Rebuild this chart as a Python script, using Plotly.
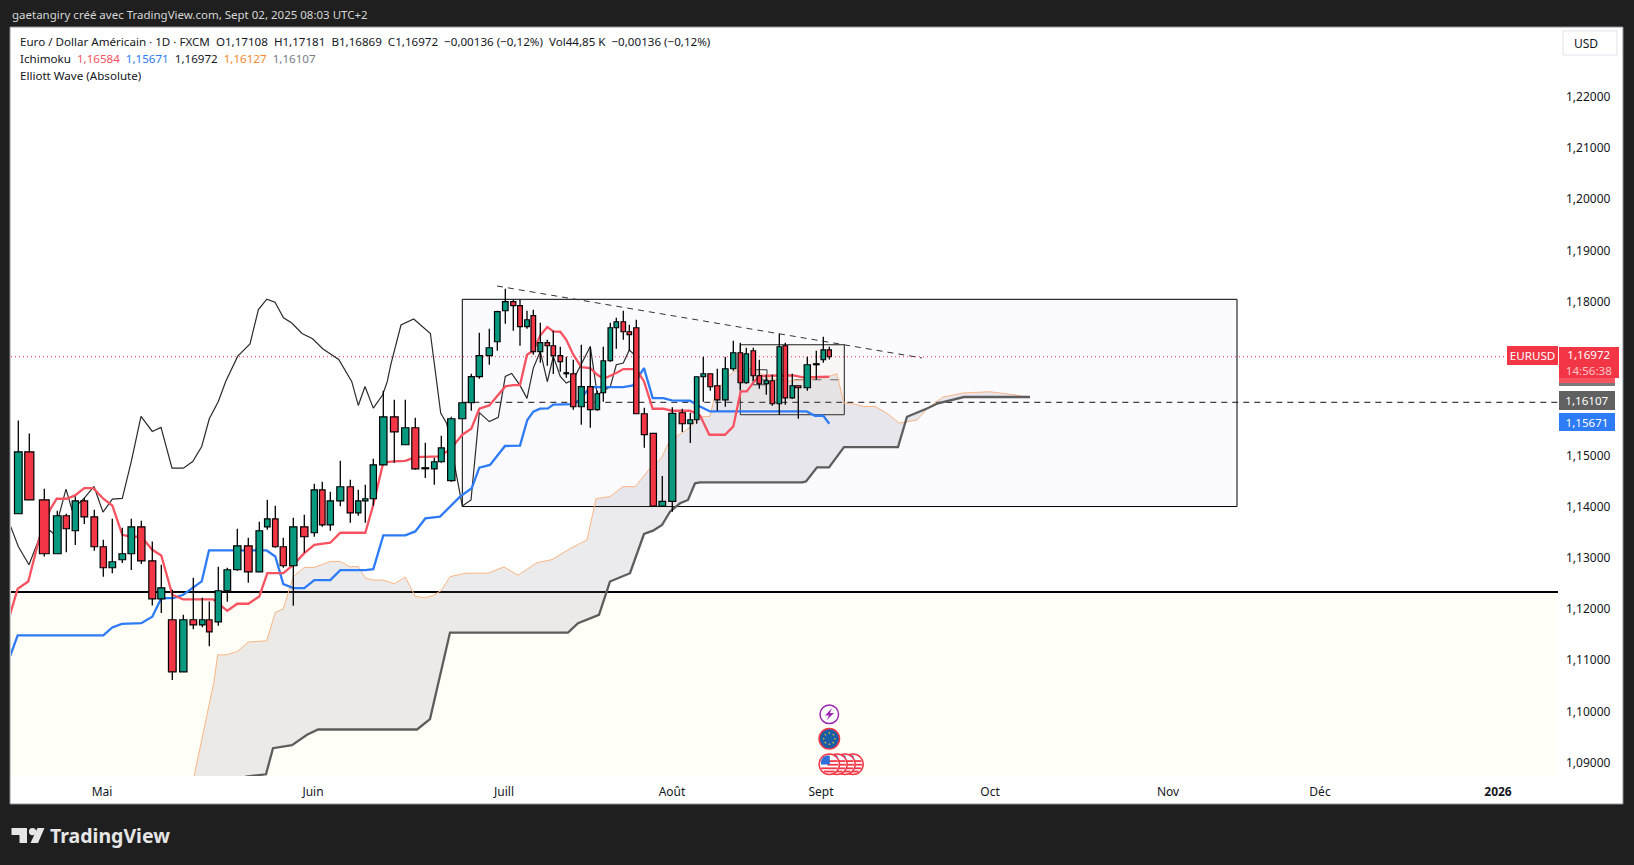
import math

import numpy as np
import plotly.graph_objects as go

# EUR/USD daily (time scale units run left to right across the chart)
bar_x = [18.3, 29.3, 44.3, 57.3, 66.3, 75.3, 84.3, 94.3, 103.3, 112.3, 122.3, 131.3, 141.3, 152.3, 161.3, 172.3,
         183.3, 193.3, 202.3, 209.3, 218.3, 227.3, 237.3, 248.3, 259.3, 267.3, 275.3, 283.3, 293.3, 304.3, 314.3,
         322.3, 330.3, 340.3, 350.3, 358.3, 365.3, 373.3, 383.3, 394.3, 405.3, 415.3, 425.3, 434.3, 441.3, 451.3,
         462.3, 471.3, 479.3, 489.3, 497.3, 505.3, 513.3, 520, 527, 533.3, 540.3, 547.3, 553.3, 560.3, 566.3,
         573.3, 581.3, 590.3, 597.3, 603.3, 610.3, 616.3, 623.3, 629.3, 636.3, 644.3, 653.3, 662.3, 672.3, 682.3,
         690.3, 696.7, 703.3, 710.3, 717.3, 725.3, 733.3, 740.3, 746.3, 753.3, 759.3, 766.3, 772.3, 779.3, 785.3,
         792.3, 798.3, 807.3, 816.3, 823.3, 829.3]
bar_open = [1.13859, 1.15069, 1.14132, 1.13078, 1.13820, 1.13527, 1.14112, 1.13800, 1.13215, 1.12805, 1.12961,
            1.13078, 1.13605, 1.12941, 1.12199, 1.11790, 1.10774, 1.11790, 1.11692, 1.11790, 1.11750, 1.12356,
            1.12766, 1.13234, 1.12726, 1.13605, 1.13761, 1.13215, 1.12844, 1.13605, 1.13488, 1.14327, 1.13644,
            1.14112, 1.14386, 1.13878, 1.14112, 1.14152, 1.14815, 1.15752, 1.15206, 1.15538, 1.14737, 1.14737,
            1.14874, 1.14504, 1.15714, 1.16026, 1.16534, 1.16944, 1.17217, 1.17822, 1.17998, 1.17920, 1.17510,
            1.17725, 1.17022, 1.17198, 1.17139, 1.16944, 1.16592, 1.16592, 1.15948, 1.16339, 1.15890, 1.16221,
            1.16846, 1.17490, 1.17607, 1.17412, 1.17490, 1.15811, 1.15429, 1.14011, 1.14102, 1.15831, 1.15616,
            1.15694, 1.16533, 1.16592, 1.16358, 1.16084, 1.16690, 1.17002, 1.16416, 1.17041, 1.16553, 1.16397,
            1.16455, 1.16006, 1.17139, 1.16123, 1.16358, 1.16319, 1.16768, 1.16865, 1.17060]
bar_high = [1.15681, 1.15427, 1.14347, 1.13917, 1.13859, 1.14197, 1.14171, 1.13937, 1.13351, 1.13761, 1.13585,
            1.13761, 1.13722, 1.13319, 1.12863, 1.12375, 1.11887, 1.12609, 1.12219, 1.12147, 1.12824, 1.12805,
            1.13566, 1.13390, 1.13703, 1.14132, 1.14015, 1.13390, 1.13781, 1.13839, 1.14444, 1.14483, 1.14288,
            1.14893, 1.14522, 1.14327, 1.14425, 1.14932, 1.16260, 1.16084, 1.16084, 1.15733, 1.15245, 1.14952,
            1.15381, 1.15753, 1.16026, 1.16592, 1.17393, 1.17471, 1.17822, 1.18252, 1.18037, 1.18037, 1.17822,
            1.17842, 1.17588, 1.17256, 1.17432, 1.17119, 1.16924, 1.16866, 1.17158, 1.17119, 1.16260, 1.17119,
            1.17588, 1.17686, 1.17822, 1.17549, 1.17646, 1.15929, 1.15429, 1.14596, 1.15937, 1.15909, 1.15831,
            1.16533, 1.16924, 1.16592, 1.16690, 1.16924, 1.17236, 1.17197, 1.17100, 1.17100, 1.16865, 1.16572,
            1.16572, 1.17373, 1.17197, 1.16592, 1.16358, 1.16924, 1.17041, 1.17314, 1.17119]
bar_low = [1.13859, 1.14132, 1.13026, 1.13078, 1.13110, 1.13247, 1.13657, 1.13136, 1.12629, 1.12700, 1.12896,
           1.12759, 1.12876, 1.12069, 1.11920, 1.10612, 1.10774, 1.11607, 1.11646, 1.11275, 1.11672, 1.12141,
           1.12746, 1.12512, 1.12726, 1.13546, 1.13195, 1.12805, 1.12063, 1.13097, 1.13410, 1.13605, 1.13527,
           1.14008, 1.13683, 1.13820, 1.13683, 1.14015, 1.14815, 1.14854, 1.15206, 1.14718, 1.14555, 1.14425,
           1.14854, 1.14484, 1.15714, 1.15870, 1.16495, 1.16768, 1.17041, 1.17568, 1.17432, 1.17139, 1.17471,
           1.16963, 1.16807, 1.16749, 1.16586, 1.16631, 1.16514, 1.15890, 1.15597, 1.15538, 1.15870, 1.16046,
           1.16827, 1.17080, 1.17256, 1.17041, 1.15811, 1.15148, 1.14011, 1.14011, 1.13900, 1.15453, 1.15239,
           1.15616, 1.16045, 1.16260, 1.15870, 1.15948, 1.16651, 1.16280, 1.16397, 1.16455, 1.16299, 1.16182,
           1.15967, 1.15792, 1.15987, 1.16104, 1.15714, 1.16260, 1.16475, 1.16807, 1.16869]
bar_close = [1.15069, 1.14132, 1.13078, 1.13820, 1.13566, 1.14112, 1.13800, 1.13215, 1.12805, 1.12922, 1.13078,
             1.13605, 1.12941, 1.12199, 1.12414, 1.10774, 1.11790, 1.11692, 1.11790, 1.11555, 1.12356, 1.12766,
             1.13234, 1.12726, 1.13527, 1.13761, 1.13215, 1.12844, 1.13605, 1.13410, 1.14327, 1.13644, 1.14112,
             1.14386, 1.13878, 1.14112, 1.14152, 1.14815, 1.15752, 1.15459, 1.15538, 1.14737, 1.14757, 1.14874,
             1.15147, 1.15714, 1.16026, 1.16534, 1.16944, 1.17100, 1.17803, 1.17998, 1.17920, 1.17510, 1.17646,
             1.17022, 1.17198, 1.17139, 1.16944, 1.16827, 1.16612, 1.15948, 1.16339, 1.15890, 1.16202, 1.16846,
             1.17490, 1.17607, 1.17412, 1.17354, 1.15811, 1.15402, 1.14011, 1.14102, 1.15820, 1.15616, 1.15694,
             1.16533, 1.16592, 1.16338, 1.16084, 1.16690, 1.17002, 1.16416, 1.16982, 1.16553, 1.16397, 1.16455,
             1.16006, 1.17119, 1.16123, 1.16358, 1.16319, 1.16768, 1.16787, 1.17060, 1.16924]

# ichimoku lines
tenkan_x = [10, 17.7, 28.3, 39.3, 50, 56.7, 66.7, 75, 84.3, 93.3, 103.3, 112.3, 122.3, 131.3, 141.3, 152.3, 161.3,
            172.3, 183.3, 213.3, 227.3, 237.3, 248.3, 259.3, 267.3, 283.3, 293.3, 304.3, 314.3, 330.3, 340.3, 365.3,
            373.3, 383.3, 394.3, 405.3, 415.3, 440, 451.3, 462.3, 471.3, 479.3, 489.3, 497.3, 505.3, 513.3, 520, 527,
            533.3, 540.3, 547.3, 553.3, 560.3, 566.3, 573.3, 581.3, 590.3, 597.3, 603.3, 610.3, 616.3, 623.3, 636.3,
            644, 652.7, 663.3, 671.7, 690, 700, 709.3, 725, 733.3, 740.7, 746.7, 758.3, 766.7, 786.7, 793.3, 803.3,
            829.3]
tenkan = [1.11887, 1.12395, 1.12538, 1.13384, 1.13937, 1.14152, 1.14152, 1.14217, 1.14360, 1.14360, 1.14152, 1.14021,
          1.13449, 1.13410, 1.13410, 1.13156, 1.13045, 1.12278, 1.12186, 1.12186, 1.11965, 1.12102, 1.12102, 1.12245,
          1.12700, 1.12700, 1.12863, 1.13091, 1.13254, 1.13293, 1.13488, 1.13488, 1.14034, 1.14861, 1.14880, 1.14893,
          1.14965, 1.14979, 1.15141, 1.15402, 1.15519, 1.15909, 1.15974, 1.16150, 1.16345, 1.16371, 1.16371, 1.16963,
          1.17041, 1.17341, 1.17503, 1.17419, 1.17412, 1.17256, 1.16963, 1.16722, 1.16703, 1.16573, 1.16495, 1.16553,
          1.16605, 1.16683, 1.16683, 1.16442, 1.15909, 1.15909, 1.15870, 1.15870, 1.15779, 1.15401, 1.15401, 1.15564,
          1.16247, 1.16247, 1.16540, 1.16553, 1.16559, 1.16559, 1.16520, 1.16533]
kijun_x = [10, 17.7, 103.3, 112.3, 121.7, 141.3, 152.3, 161.3, 173.3, 183.3, 201.7, 209, 266.7, 275.3, 283.3, 293.3,
           304.3, 314.3, 330.3, 340.3, 365.3, 373.3, 383.3, 405.3, 415.3, 425.3, 440, 460, 471.7, 479.3, 490, 505,
           520, 527.3, 533.3, 540, 548, 553.3, 573, 580, 590, 623, 633, 640, 644, 652.7, 663.3, 671.7, 690, 700,
           710, 806.7, 815, 823.3, 829.3]
kijun = [1.11074, 1.11484, 1.11484, 1.11640, 1.11711, 1.11724, 1.11848, 1.12212, 1.12212, 1.12278, 1.12538, 1.13143,
         1.13143, 1.13026, 1.12486, 1.12408, 1.12408, 1.12564, 1.12564, 1.12759, 1.12759, 1.12779, 1.13436, 1.13436,
         1.13514, 1.13768, 1.13803, 1.14193, 1.14356, 1.14759, 1.14811, 1.15182, 1.15189, 1.15690, 1.15852, 1.15911,
         1.15917, 1.15989, 1.16000, 1.16085, 1.16332, 1.16332, 1.16365, 1.16572, 1.16703, 1.16117, 1.16117, 1.16071,
         1.16065, 1.15954, 1.15857, 1.15857, 1.15772, 1.15772, 1.15616]
chikou_x = [10, 18.3, 29, 39.3, 50, 54, 66, 72, 84.3, 94, 103, 112.3, 122.3, 131.3, 141, 152.3, 161, 172, 183.3,
            192.7, 201.7, 209.3, 218.3, 225.7, 237.6, 250, 258.4, 266.8, 275, 283.5, 291.8, 302, 312.6, 323, 338.7,
            351.7, 358.3, 365, 373.3, 382.7, 387.3, 390.8, 401, 413.7, 430.4, 436.7, 440.7, 446.7, 462.3, 471,
            479.3, 489.3, 498.3, 505.3, 511.7, 520, 527, 533.3, 540.3, 547.3, 553.3, 560.3, 566.3, 573.3, 590.3,
            597.3, 610.3, 616.3, 623.3, 629.3, 636.3]
chikou = [1.13644, 1.13221, 1.12863, 1.13384, 1.13533, 1.13462, 1.14340, 1.13937, 1.14165, 1.14392, 1.13891, 1.14145,
          1.14158, 1.14880, 1.15759, 1.15466, 1.15544, 1.14750, 1.14750, 1.14880, 1.15173, 1.15713, 1.16052, 1.16442,
          1.16931, 1.17175, 1.17846, 1.18049, 1.17989, 1.17684, 1.17583, 1.17378, 1.17276, 1.17075, 1.16870, 1.16442,
          1.15973, 1.16344, 1.15921, 1.16182, 1.16442, 1.16769, 1.17544, 1.17661, 1.17378, 1.16442, 1.15824, 1.15624,
          1.14011, 1.14128, 1.15833, 1.15657, 1.15742, 1.16540, 1.16599, 1.16365, 1.16111, 1.16703, 1.17028, 1.16436,
          1.16931, 1.16540, 1.16410, 1.16475, 1.17126, 1.16182, 1.16339, 1.16768, 1.16801, 1.17054, 1.16931]
senkou_a_x = [194, 214, 217.7, 226.7, 237.3, 248.3, 266.7, 275.3, 283.3, 293.3, 304.3, 314.3, 330.3, 340.3, 350,
              358.3, 365.3, 373.3, 383.3, 394.3, 405.3, 415.3, 425.3, 433.3, 441.3, 450, 466, 488, 504, 518, 537,
              552, 571, 587, 596, 610, 622.7, 635.3, 650, 661.3, 668.3, 676, 686.7, 696, 700, 710, 715, 720, 733.3,
              740, 753.3, 766.7, 783.3, 806.7, 820, 828.3, 836.7, 844, 853.3, 863.3, 875, 886.7, 899.3, 917, 927.5,
              943, 964, 990, 1016, 1030]
senkou_a = [1.08727, 1.10586, 1.11106, 1.11106, 1.11171, 1.11354, 1.11380, 1.11933, 1.12004, 1.12635, 1.12811, 1.12811,
            1.12928, 1.12928, 1.12824, 1.12830, 1.12603, 1.12564, 1.12564, 1.12492, 1.12622, 1.12245, 1.12219, 1.12265,
            1.12362, 1.12631, 1.12699, 1.12699, 1.12822, 1.12660, 1.12904, 1.12964, 1.13189, 1.13347, 1.14154, 1.14193,
            1.14388, 1.14388, 1.14746, 1.14941, 1.15234, 1.15364, 1.15494, 1.15690, 1.15759, 1.15759, 1.16182, 1.16345,
            1.16638, 1.16670, 1.16703, 1.16520, 1.16442, 1.16475, 1.16520, 1.16533, 1.16592, 1.16019, 1.16006, 1.15954,
            1.15954, 1.15824, 1.15629, 1.15689, 1.15914, 1.16138, 1.16218, 1.16240, 1.16177, 1.16119]
senkou_b_x = [194, 246, 266, 273, 292, 307, 318, 417, 430, 450, 568, 578, 599, 610, 630, 642, 644, 653, 662, 670, 680,
              688, 695, 700, 802, 806, 817, 829, 844, 898, 907, 927, 938, 964, 1030]
senkou_b = [1.08100, 1.08727, 1.08774, 1.09283, 1.09343, 1.09546, 1.09648, 1.09648, 1.09852, 1.11540, 1.11540, 1.11723,
            1.11887, 1.12537, 1.12699, 1.13347, 1.13464, 1.13529, 1.13640, 1.13900, 1.14063, 1.14128, 1.14453, 1.14473,
            1.14473, 1.14490, 1.14764, 1.14764, 1.15160, 1.15160, 1.15752, 1.15914, 1.16015, 1.16138, 1.16138]

# levels drawn by the author
level_support = 1.12332
range_box = (462.3, 1237, 1.14000, 1.18045)
range_mid = 1.16035
small_box = (740.3, 844.3, 1.15792, 1.17158)
small_mid = 1.16475
trend_x = [497, 922]
trend_y = [1.18305, 1.16900]
last_close = bar_close[-1]

price_ticks = [1.09, 1.10, 1.11, 1.12, 1.13, 1.14, 1.15, 1.18, 1.19, 1.20, 1.21, 1.22]
month_pos = [102, 313, 504, 672, 821, 990, 1168, 1320, 1498]
month_labels = ["Mai", "Juin", "Juill", "Août", "Sept", "Oct", "Nov", "Déc", "<b>2026</b>"]

FONT = "Noto Sans"
TEXT_SIZE = 11.6
DARK = "#1f1f1f"
GREEN = "#089981"
RED = "#f23645"
TK_RED = "#f7525f"
KJ_BLUE = "#2e7bf6"
X0, X1 = 11, 1558
Y0, Y1 = 27, 776
XRANGE = [X0, X1]
YRANGE = [1.22 - (Y1 - 96.7) / 5123, 1.22 + (96.7 - Y0) / 5123]


def px(x):
    return (x - X0) / (X1 - X0)


def py(y):
    return (Y1 - y) / (Y1 - Y0)


def screen_rect(x0, y0, x1, y1, fill, line=None, layer="above"):
    return dict(type="rect", xref="paper", yref="paper", x0=px(x0), x1=px(x1), y0=py(y0), y1=py(y1),
                fillcolor=fill, line=dict(color=line, width=1) if line else dict(width=0), layer=layer)


def screen_circle(cx, cy, r, fill, line=None, width=1.5):
    return dict(type="circle", xref="paper", yref="paper", x0=px(cx - r), x1=px(cx + r), y0=py(cy - r), y1=py(cy + r),
                fillcolor=fill, line=dict(color=line, width=width) if line else dict(width=0), layer="above")


def screen_path(points, fill):
    d = "M" + " L".join(f"{px(x):.5f},{py(y):.5f}" for x, y in points) + " Z"
    return dict(type="path", xref="paper", yref="paper", path=d, fillcolor=fill, line=dict(width=0), layer="above")


def text_at(text, x, y, size=TEXT_SIZE, color="#131722", anchor="left", **kw):
    return dict(text=text, xref="paper", yref="paper", x=px(x), y=py(y), xanchor=anchor, yanchor="middle",
                showarrow=False, font=dict(family=FONT, size=size, color=color), **kw)


def price_tag(text, x0, x1, y0, y1, bg, color="#ffffff"):
    return text_at(text, (x0 + x1) / 2, (y0 + y1) / 2, color=color, anchor="center", bgcolor=bg,
                   width=x1 - x0, height=y1 - y0, borderpad=0, borderwidth=0)


# candle bodies get their width from the local bar spacing
spacing = np.gradient(np.array(bar_x))
body_width = (spacing * 0.7).tolist()
body_color = [GREEN if c >= o else RED for o, c in zip(bar_open, bar_close)]
body_low = [min(o, c) for o, c in zip(bar_open, bar_close)]
body_size = [abs(o - c) for o, c in zip(bar_open, bar_close)]

wick_x, wick_y = [], []
for x, hi, lo in zip(bar_x, bar_high, bar_low):
    wick_x += [x, x, None]
    wick_y += [lo, hi, None]

fig = go.Figure()

# cloud first so the lines sit on it
fig.add_trace(go.Scatter(x=senkou_a_x, y=senkou_a, mode="lines", line=dict(color="#fbb583", width=1)))
fig.add_trace(go.Scatter(x=senkou_b_x, y=senkou_b, mode="lines", line=dict(color="#5d5d5d", width=2.3),
                         fill="tonexty", fillcolor="rgba(120,123,134,0.15)"))
fig.add_trace(go.Scatter(x=chikou_x, y=chikou, mode="lines", line=dict(color="#2b2b2b", width=1.2)))
fig.add_trace(go.Scatter(x=kijun_x, y=kijun, mode="lines", line=dict(color=KJ_BLUE, width=2.3)))
fig.add_trace(go.Scatter(x=tenkan_x, y=tenkan, mode="lines", line=dict(color=TK_RED, width=2.3)))

# wicks and bodies live on overlay axes, otherwise plotly puts bars under the lines
fig.add_trace(go.Scatter(x=wick_x, y=wick_y, mode="lines", line=dict(color="#000000", width=1.3),
                         xaxis="x2", yaxis="y2", connectgaps=False))
fig.add_trace(go.Bar(x=bar_x, y=body_size, base=body_low, width=body_width, marker=dict(color=body_color,
                     line=dict(color="#000000", width=1.2)), xaxis="x3", yaxis="y3"))

shapes = [screen_rect(10, 27, 1623, 804, "#ffffff", "#8f9296", layer="below")]
# ivory zone and levels, all under the traces
shapes.append(dict(type="rect", x0=X0, x1=X1, y0=YRANGE[0], y1=level_support, fillcolor="#fffef7",
                   line=dict(width=0), layer="below"))
shapes.append(dict(type="rect", x0=range_box[0], x1=range_box[1], y0=range_box[2], y1=range_box[3],
                   fillcolor="#fbfaff", line=dict(color="#000000", width=1), layer="below"))
shapes.append(dict(type="rect", x0=small_box[0], x1=small_box[1], y0=small_box[2], y1=small_box[3],
                   fillcolor="rgba(244,232,205,0.2)", line=dict(color="#1c1c1c", width=1), layer="below"))
shapes.append(dict(type="line", x0=small_box[0], x1=small_box[1], y0=small_mid, y1=small_mid,
                   line=dict(color="#666666", width=1, dash="dash"), layer="below"))
shapes.append(dict(type="rect", x0=753, x1=767, y0=1.16377, y1=1.16670, line=dict(color="#333333", width=1),
                   layer="below"))
shapes.append(dict(type="line", x0=X0, x1=X1, y0=level_support, y1=level_support,
                   line=dict(color="#000000", width=2), layer="below"))
shapes.append(dict(type="line", x0=range_box[0], x1=X1, y0=range_mid, y1=range_mid,
                   line=dict(color="#111111", width=1, dash="6px,5px"), layer="below"))
shapes.append(dict(type="line", x0=trend_x[0], x1=trend_x[1], y0=trend_y[0], y1=trend_y[1],
                   line=dict(color="#333333", width=1, dash="6px,5px"), layer="below"))
shapes.append(dict(type="line", x0=X0, x1=X1, y0=last_close, y1=last_close,
                   line=dict(color=RED, width=1, dash="1px,3px"), layer="below"))

# tags hidden behind the red one, and the USD button
shapes.append(screen_rect(1559, 372, 1615, 383, TK_RED))
shapes.append(screen_rect(1559, 383, 1615, 386, "#7a7a7a"))
shapes.append(screen_rect(1563, 31, 1617, 55, "#ffffff", "#e0e3eb"))

# event icons under september
shapes.append(screen_circle(829.3, 714.3, 9.3, "#ffffff", "#9c27b0"))
shapes.append(screen_path([(832, 708), (825, 715.5), (829, 715.5), (826.5, 720.5), (834, 713), (830, 713)], "#9c27b0"))
shapes.append(screen_circle(829.3, 738.7, 10.2, "#1a5ea8", RED))
for k in range(8):
    a = k * math.pi / 4
    shapes.append(screen_circle(829.3 + 5.6 * math.cos(a), 738.7 + 5.6 * math.sin(a), 0.8, "#f5c518"))
for cx in [853, 845, 837, 829.3]:
    shapes.append(screen_circle(cx, 764.3, 10.2, "#ffffff", RED))
    for dy, half in [(-3.2, 8.4), (0.4, 9), (4, 8.2), (7.2, 5.5)]:
        shapes.append(screen_rect(cx - half + (7 if dy < 1 else 0), 764.3 + dy - 0.9, cx + half, 764.3 + dy + 0.9, RED))
    shapes.append(screen_path([(cx - 8, 760), (cx - 6, 757), (cx - 2.5, 755.6), (cx + 0.5, 755.6), (cx + 0.5, 764.5),
                               (cx - 8.6, 764.5)], "#2e6fd8"))

# TradingView logo
shapes.append(screen_path([(11.5, 828), (27, 828), (27, 843), (19.5, 843), (19.5, 835), (11.5, 835)], "#e6e6e6"))
shapes.append(screen_circle(32.5, 831.6, 3.6, "#e6e6e6"))
shapes.append(screen_path([(37.5, 828), (44.5, 828), (38, 843), (30.5, 843)], "#e6e6e6"))

header = "Euro / Dollar Américain · 1D · FXCM  O1,17108  H1,17181  B1,16869  C1,16972  −0,00136 (−0,12%)  " \
         "Vol44,85 K  −0,00136 (−0,12%)"
ichimoku = (f"Ichimoku  <span style='color:{TK_RED}'>1,16584</span>  <span style='color:{KJ_BLUE}'>1,15671</span>  "
            "1,16972  <span style='color:#f7862a'>1,16127</span>  <span style='color:#787b86'>1,16107</span>")

annotations = [
    text_at("gaetangiry créé avec TradingView.com, Sept 02, 2025 08:03 UTC+2", 10.4, 14.6, size=11.5, color="#d6d6d6"),
    text_at(header, 18.4, 41.7),
    text_at(ichimoku, 18.4, 58.4),
    text_at("Elliott Wave (Absolute)", 18.4, 75),
    text_at("USD", 1572, 43, size=12),
    text_at("<b>TradingView</b>", 48, 835.5, size=19.5, color="#e6e6e6"),
    price_tag("EURUSD", 1507, 1558, 346, 365, RED),
    price_tag("1,16107", 1559, 1615, 391, 410, "#616161"),
    price_tag("1,15671", 1559, 1615, 413, 431, KJ_BLUE),
    price_tag("1,16972<br><span style='color:#ffc5cb'>14:56:38</span>", 1559, 1619, 347, 378, RED),
]

axis_hidden = dict(range=XRANGE, visible=False, fixedrange=True)
fig.update_layout(
    width=1634, height=865, autosize=False, showlegend=False, barmode="overlay", separators=", ",
    paper_bgcolor=DARK, plot_bgcolor="rgba(0,0,0,0)", margin=dict(l=X0, r=1634 - X1, t=Y0, b=865 - Y1, pad=0),
    font=dict(family=FONT, size=12, color="#131722"),
    xaxis=dict(range=XRANGE, tickvals=month_pos, ticktext=month_labels, showgrid=False, zeroline=False,
               ticks="", ticklabelstandoff=7, tickfont=dict(size=12, color="#131722")),
    yaxis=dict(range=YRANGE, tickvals=price_ticks, tickformat=".5f", side="right", showgrid=False, zeroline=False,
               ticks="", ticklabelstandoff=7, tickfont=dict(size=12, color="#131722")),
    xaxis2=dict(axis_hidden, overlaying="x"),
    yaxis2=dict(range=YRANGE, visible=False, overlaying="y"),
    xaxis3=dict(axis_hidden, overlaying="x"),
    yaxis3=dict(range=YRANGE, visible=False, overlaying="y"),
    shapes=shapes,
    annotations=annotations,
)

# the page margin would otherwise show as a white strip around the dark frame
fig.write_html("out.html", config=dict(displayModeBar=False),
               post_script="document.body.style.margin='0';document.body.style.overflow='hidden';")
